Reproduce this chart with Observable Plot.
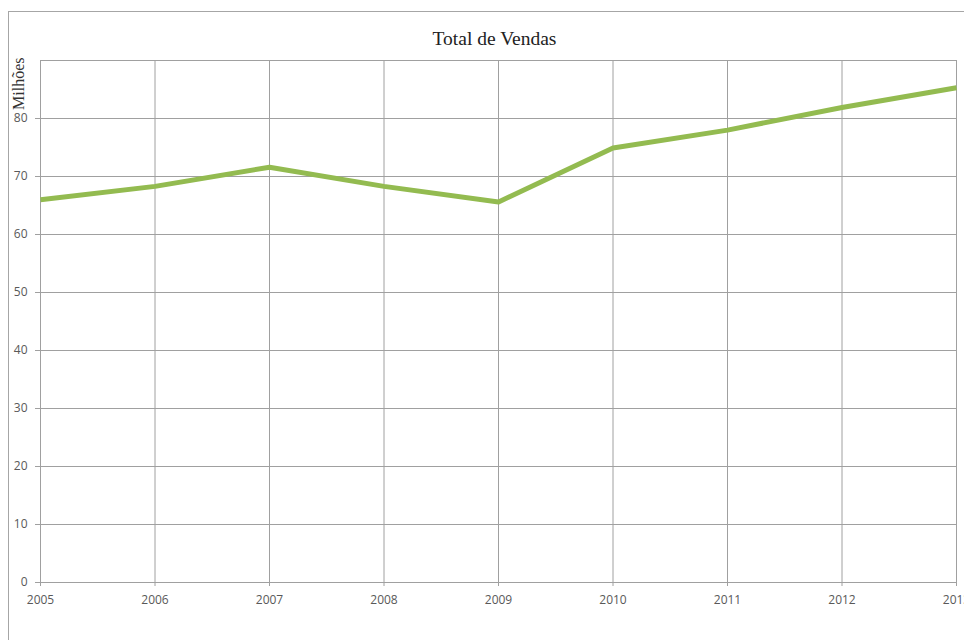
<!DOCTYPE html>
<html>
<head>
<meta charset="utf-8">
<script src="https://cdn.jsdelivr.net/npm/d3@7"></script>
<script src="https://cdn.jsdelivr.net/npm/@observablehq/plot@0.6"></script>
<style>
  html, body { margin: 0; padding: 0; background: #fff; overflow: hidden; width: 964px; height: 640px; }
  #frame { position: absolute; left: 8px; top: 11px; width: 1100px; height: 800px;
           border-left: 1px solid #a6a6a6; border-top: 1px solid #a6a6a6; }
</style>
</head>
<body>
<div id="frame"></div>
<script>
const years = [2005, 2006, 2007, 2008, 2009, 2010, 2011, 2012, 2013];
const sales = [66.0, 68.3, 71.6, 68.3, 65.6, 74.9, 78.0, 81.9, 85.3];
const yTicks = [0, 10, 20, 30, 40, 50, 60, 70, 80];
const yGrid = [0, 10, 20, 30, 40, 50, 60, 70, 80, 90];
const title = "Total de Vendas";
const yLabel = "Milhões";

const data = years.map((y, i) => ({year: y, value: sales[i]}));
const gridColor = "#a0a0a0";
const labelColor = "#595959";

const chart = Plot.plot({
  width: 1000,
  height: 640,
  marginLeft: 31,
  marginTop: 48,
  marginRight: 53,
  marginBottom: 70,
  style: {background: "transparent", fontFamily: "'Open Sans', 'Liberation Sans', sans-serif", overflow: "visible"},
  x: {type: "linear", domain: [2005, 2013]},
  y: {domain: [0, 90]},
  marks: [
    Plot.ruleY(yGrid, {stroke: gridColor, strokeWidth: 1, strokeOpacity: 1}),
    Plot.ruleX(years, {stroke: gridColor, strokeWidth: 1, strokeOpacity: 1}),
    Plot.axisY({ticks: yTicks, tickSize: 5, tickPadding: 8, tickFormat: d => String(d), label: null,
                stroke: gridColor, fill: labelColor, fontSize: 12}),
    Plot.axisX({ticks: years, tickSize: 4, tickPadding: 9, tickFormat: d => String(d), label: null,
                stroke: gridColor, fill: labelColor, fontSize: 12}),
    Plot.line(data, {x: "year", y: "value", stroke: "#93bb50", strokeWidth: 5, strokeLinejoin: "round", strokeLinecap: "butt"}),
    Plot.text([title], {frameAnchor: "top", dy: -22, dx: -4, fontSize: 19.5, fill: "#222", lineAnchor: "middle",
                        fontFamily: "'Liberation Serif', 'DejaVu Serif', serif", text: d => d}),
    Plot.text([yLabel], {frameAnchor: "top-left", dx: -22, dy: -3, rotate: -90, textAnchor: "end",
                         fontSize: 16, fill: "#333", lineAnchor: "middle",
                         fontFamily: "'Liberation Serif', 'DejaVu Serif', serif", text: d => d})
  ]
});
chart.style.position = "absolute";
chart.style.left = "0px";
chart.style.top = "0px";
chart.style.maxWidth = "none";
document.getElementById("frame").appendChild(chart);
</script>
</body>
</html>
